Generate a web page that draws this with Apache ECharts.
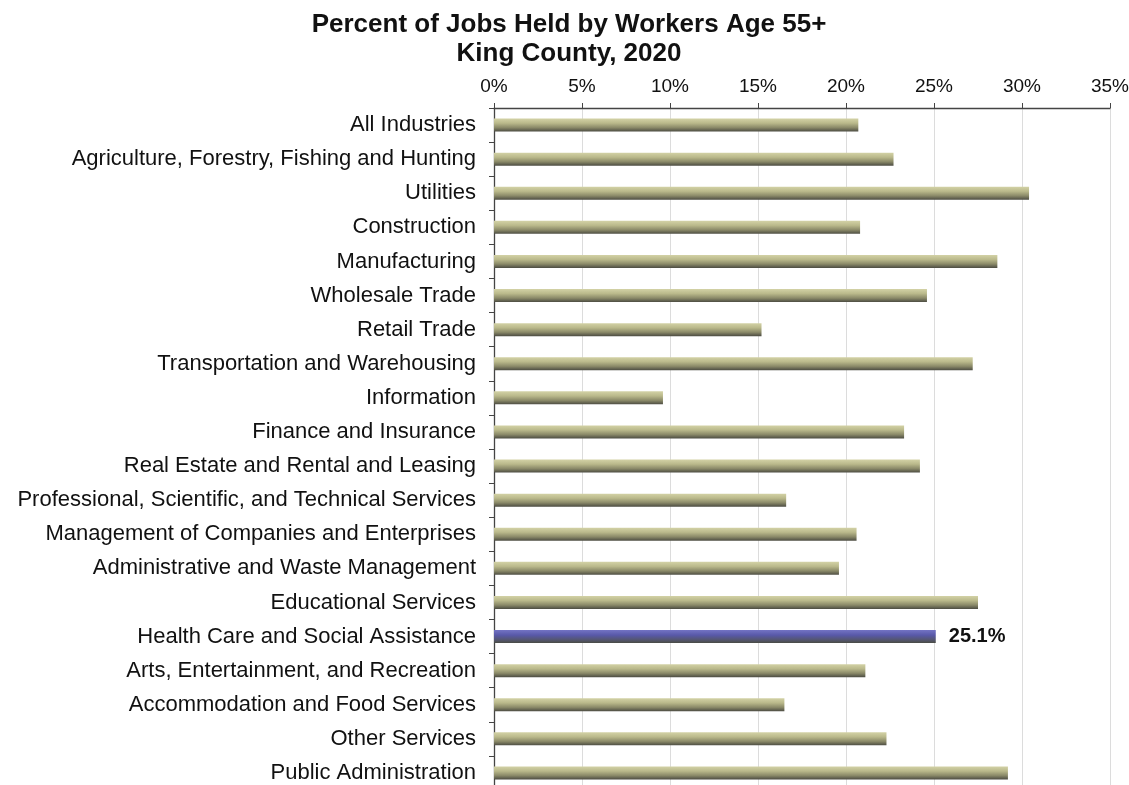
<!DOCTYPE html>
<html>
<head>
<meta charset="utf-8">
<script src="https://cdn.jsdelivr.net/npm/echarts@6/dist/echarts.min.js"></script>
<style>
  html, body { margin: 0; padding: 0; background: #ffffff; }
  #chart { width: 1129px; height: 785px; }
</style>
</head>
<body>
<div id="chart"></div>
<script>
// Industry categories, top to bottom
const industries = [
  'All Industries',
  'Agriculture, Forestry, Fishing and Hunting',
  'Utilities',
  'Construction',
  'Manufacturing',
  'Wholesale Trade',
  'Retail Trade',
  'Transportation and Warehousing',
  'Information',
  'Finance and Insurance',
  'Real Estate and Rental and Leasing',
  'Professional, Scientific, and Technical Services',
  'Management of Companies and Enterprises',
  'Administrative and Waste Management',
  'Educational Services',
  'Health Care and Social Assistance',
  'Arts, Entertainment, and Recreation',
  'Accommodation and Food Services',
  'Other Services',
  'Public Administration'
];

// Share of jobs held by workers aged 55+ (percent)
const sharePct = [
  20.7, 22.7, 30.4, 20.8, 28.6, 24.6, 15.2, 27.2, 9.6, 23.3,
  24.2, 16.6, 20.6, 19.6, 27.5, 25.1, 21.1, 16.5, 22.3, 29.2
];

// Industry drawn in the accent colour, with its value labelled
const highlighted = 'Health Care and Social Assistance';

const titleLines = ['Percent of Jobs Held by Workers Age 55+', 'King County, 2020'];

const khaki = new echarts.graphic.LinearGradient(0, 0, 0, 1, [
  { offset: 0, color: '#d3d2a6' },
  { offset: 0.35, color: '#bab98b' },
  { offset: 0.7, color: '#8a8968' },
  { offset: 1, color: '#4c4c42' }
]);
const blue = new echarts.graphic.LinearGradient(0, 0, 0, 1, [
  { offset: 0, color: '#7373c4' },
  { offset: 0.4, color: '#5858a8' },
  { offset: 0.75, color: '#545670' },
  { offset: 1, color: '#4a4c44' }
]);

const barData = sharePct.map((v, i) => {
  if (industries[i] === highlighted) {
    return {
      value: v,
      itemStyle: { color: blue },
      label: {
        show: true,
        position: 'right',
        distance: 13,
        formatter: (p) => p.value.toFixed(1) + '%',
        fontFamily: 'Liberation Sans, Arial, sans-serif',
        fontWeight: 'bold',
        fontSize: 20,
        color: '#111111'
      }
    };
  }
  return { value: v };
});

const chart = echarts.init(document.getElementById('chart'), null, { renderer: 'canvas' });
chart.setOption({
  backgroundColor: '#ffffff',
  animation: false,
  textStyle: { fontFamily: 'Liberation Sans, Arial, sans-serif' },
  title: {
    text: titleLines.join('\n'),
    left: 564,
    textAlign: 'center',
    top: 5,
    textStyle: {
      fontFamily: 'Liberation Sans, Arial, sans-serif',
      fontWeight: 'bold',
      fontSize: 26,
      lineHeight: 29,
      color: '#111111'
    }
  },
  grid: { left: 494, right: 19, top: 108, height: 682, outerBoundsMode: 'none', containLabel: false },
  xAxis: {
    type: 'value',
    position: 'top',
    min: 0,
    max: 35,
    interval: 5,
    axisLine: { show: true, lineStyle: { color: '#444444', width: 1.3 } },
    axisTick: { show: true, inside: false, length: 5, lineStyle: { color: '#444444' } },
    axisLabel: {
      formatter: '{value}%',
      fontSize: 19,
      color: '#111111',
      margin: 12
    },
    splitLine: { show: true, lineStyle: { color: '#dcdcdc', width: 1 } }
  },
  yAxis: {
    type: 'category',
    inverse: true,
    data: industries,
    axisLine: { show: true, lineStyle: { color: '#444444', width: 1.3 } },
    axisTick: { show: true, inside: false, length: 5, lineStyle: { color: '#444444' } },
    axisLabel: {
      fontSize: 22,
      color: '#111111',
      margin: 18
    }
  },
  series: [{
    type: 'bar',
    data: barData,
    barWidth: 13,
    itemStyle: { color: khaki },
    label: { show: false }
  }]
});
</script>
</body>
</html>
